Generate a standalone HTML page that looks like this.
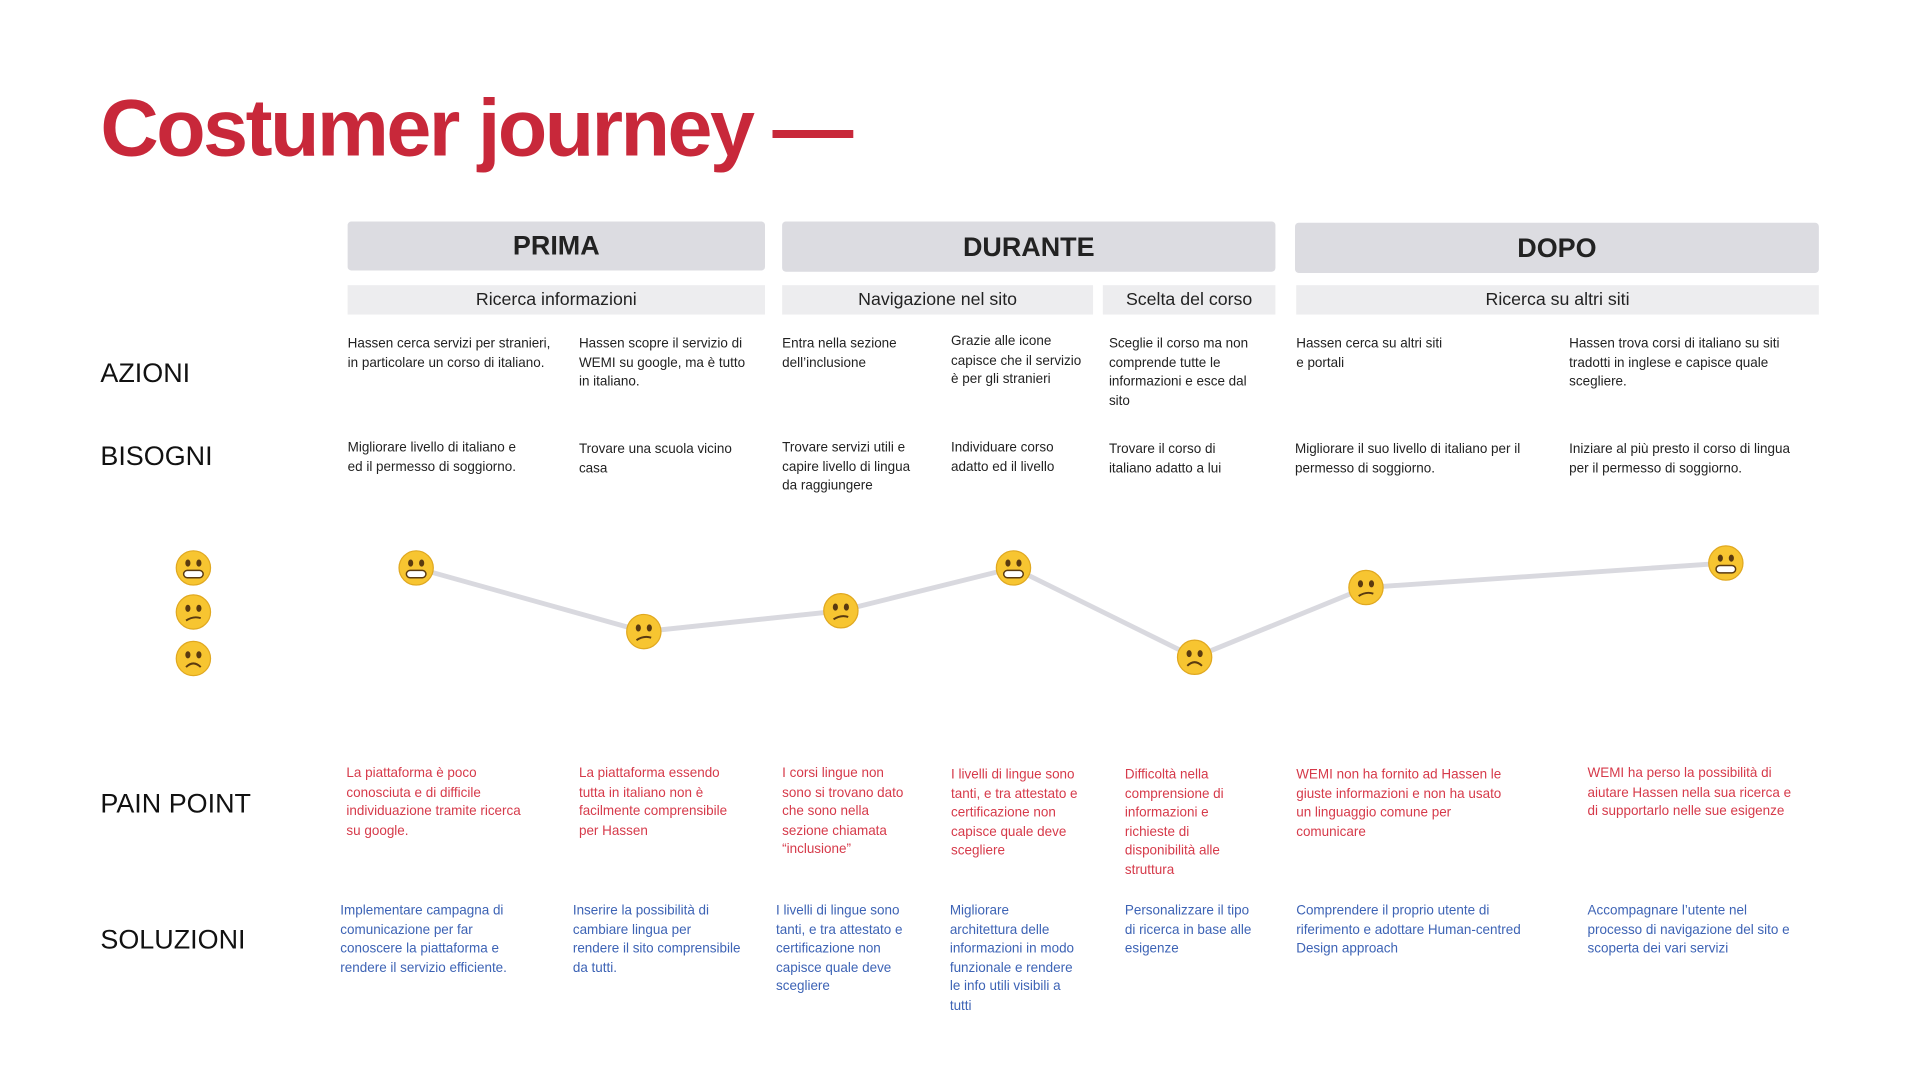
<!DOCTYPE html>
<html><head><meta charset="utf-8"><style>
html,body{margin:0;padding:0;background:#fff;width:1920px;height:1080px;overflow:hidden}
#w{position:absolute;left:0;top:0;width:1560px;height:878px;transform:scale(1.224);transform-origin:0 0;font-family:"Liberation Sans",sans-serif}
.a{position:absolute}
.t{position:absolute;font-size:11px;line-height:15.5px;color:#222;white-space:nowrap}
.r{color:#d63a4a}.b{color:#3d63b5}
.h{position:absolute;background:#dcdce1;border-radius:3px;font-size:22px;font-weight:bold;color:#222;display:flex;align-items:center;justify-content:center}
.s{position:absolute;background:#ededef;font-size:14.5px;color:#222;display:flex;align-items:center;justify-content:center;top:233px;height:24px}
.l{position:absolute;left:82px;font-size:22px;color:#111;transform:translateY(-50%)}
</style></head><body><div id="w">
<div class="a" style="left:82px;top:66px;font-size:66px;font-weight:bold;color:#c8283a;letter-spacing:-2px">Costumer journey —</div>
<div class="h" style="left:284px;top:181px;width:341px;height:40px">PRIMA</div>
<div class="h" style="left:639px;top:181px;width:403px;height:41px">DURANTE</div>
<div class="h" style="left:1058px;top:182px;width:428px;height:41px">DOPO</div>
<div class="s" style="left:284px;width:341px">Ricerca informazioni</div>
<div class="s" style="left:639px;width:254px">Navigazione nel sito</div>
<div class="s" style="left:901px;width:141px">Scelta del corso</div>
<div class="s" style="left:1059px;width:427px">Ricerca su altri siti</div>
<div class="l" style="top:305px">AZIONI</div>
<div class="l" style="top:373px">BISOGNI</div>
<div class="l" style="top:657px">PAIN POINT</div>
<div class="l" style="top:768px">SOLUZIONI</div>

<div class="t" style="left:284px;top:274px">Hassen cerca servizi per stranieri,<br>in particolare un corso di italiano.</div>
<div class="t" style="left:473px;top:274px">Hassen scopre il servizio di<br>WEMI su google, ma è tutto<br>in italiano.</div>
<div class="t" style="left:639px;top:274px">Entra nella sezione<br>dell’inclusione</div>
<div class="t" style="left:777px;top:272px">Grazie alle icone<br>capisce che il servizio<br>è per gli stranieri</div>
<div class="t" style="left:906px;top:274px">Sceglie il corso ma non<br>comprende tutte le<br>informazioni e esce dal<br>sito</div>
<div class="t" style="left:1059px;top:274px">Hassen cerca su altri siti<br>e portali</div>
<div class="t" style="left:1282px;top:274px">Hassen trova corsi di italiano su siti<br>tradotti in inglese e capisce quale<br>scegliere.</div>

<div class="t" style="left:284px;top:359px">Migliorare livello di italiano e<br>ed il permesso di soggiorno.</div>
<div class="t" style="left:473px;top:360px">Trovare una scuola vicino<br>casa</div>
<div class="t" style="left:639px;top:359px">Trovare servizi utili e<br>capire livello di lingua<br>da raggiungere</div>
<div class="t" style="left:777px;top:359px">Individuare corso<br>adatto ed il livello</div>
<div class="t" style="left:906px;top:360px">Trovare il corso di<br>italiano adatto a lui</div>
<div class="t" style="left:1058px;top:360px">Migliorare il suo livello di italiano per il<br>permesso di soggiorno.</div>
<div class="t" style="left:1282px;top:360px">Iniziare al più presto il corso di lingua<br>per il permesso di soggiorno.</div>

<svg class="a" style="left:0;top:0" width="1560" height="878">
<defs><g id="f"><circle r="14" fill="#f7c531"/><circle r="14" fill="none" stroke="#e0a820" stroke-width="1"/></g></defs>
<polyline points="340,464 526,516 687,499 828,464 976,537 1116,480 1410,460" fill="none" stroke="#d9d9df" stroke-width="4"/>
<g>
<use href="#f" x="158" y="464"/><use href="#f" x="340" y="464"/><use href="#f" x="828" y="464"/><use href="#f" x="1410" y="460"/>
<use href="#f" x="158" y="500"/><use href="#f" x="526" y="516"/><use href="#f" x="687" y="499"/><use href="#f" x="1116" y="480"/>
<use href="#f" x="158" y="538"/><use href="#f" x="976" y="537"/>
</g>
<g fill="#5a3a10" stroke="#5a3a10">
<g transform="translate(158,464)"><ellipse cx="-4.5" cy="-4" rx="1.6" ry="2.4"/><ellipse cx="4.5" cy="-4" rx="1.6" ry="2.4"/><rect x="-8" y="2" width="16" height="6" rx="3" fill="#fff" stroke-width="1.2"/></g>
<g transform="translate(340,464)"><ellipse cx="-4.5" cy="-4" rx="1.6" ry="2.4"/><ellipse cx="4.5" cy="-4" rx="1.6" ry="2.4"/><rect x="-8" y="2" width="16" height="6" rx="3" fill="#fff" stroke-width="1.2"/></g>
<g transform="translate(828,464)"><ellipse cx="-4.5" cy="-4" rx="1.6" ry="2.4"/><ellipse cx="4.5" cy="-4" rx="1.6" ry="2.4"/><rect x="-8" y="2" width="16" height="6" rx="3" fill="#fff" stroke-width="1.2"/></g>
<g transform="translate(1410,460)"><ellipse cx="-4.5" cy="-4" rx="1.6" ry="2.4"/><ellipse cx="4.5" cy="-4" rx="1.6" ry="2.4"/><rect x="-8" y="2" width="16" height="6" rx="3" fill="#fff" stroke-width="1.2"/></g>
<g transform="translate(158,500)"><ellipse cx="-4.5" cy="-3" rx="1.6" ry="2.4"/><ellipse cx="4.5" cy="-3" rx="1.6" ry="2.4"/><path d="M-6 7 Q0 3 6 5" fill="none" stroke-width="1.6"/></g>
<g transform="translate(526,516)"><ellipse cx="-4.5" cy="-3" rx="1.6" ry="2.4"/><ellipse cx="4.5" cy="-3" rx="1.6" ry="2.4"/><path d="M-6 7 Q0 3 6 5" fill="none" stroke-width="1.6"/></g>
<g transform="translate(687,499)"><ellipse cx="-4.5" cy="-3" rx="1.6" ry="2.4"/><ellipse cx="4.5" cy="-3" rx="1.6" ry="2.4"/><path d="M-6 7 Q0 3 6 5" fill="none" stroke-width="1.6"/></g>
<g transform="translate(1116,480)"><ellipse cx="-4.5" cy="-3" rx="1.6" ry="2.4"/><ellipse cx="4.5" cy="-3" rx="1.6" ry="2.4"/><path d="M-6 7 Q0 3 6 5" fill="none" stroke-width="1.6"/></g>
<g transform="translate(158,538)"><ellipse cx="-4.5" cy="-3" rx="1.6" ry="2.4"/><ellipse cx="4.5" cy="-3" rx="1.6" ry="2.4"/><path d="M-6 7 Q0 1 6 7" fill="none" stroke-width="1.6"/></g>
<g transform="translate(976,537)"><ellipse cx="-4.5" cy="-3" rx="1.6" ry="2.4"/><ellipse cx="4.5" cy="-3" rx="1.6" ry="2.4"/><path d="M-6 7 Q0 1 6 7" fill="none" stroke-width="1.6"/></g>
</g>
</svg>

<div class="t r" style="left:283px;top:625px">La piattaforma è poco<br>conosciuta e di difficile<br>individuazione tramite ricerca<br>su google.</div>
<div class="t r" style="left:473px;top:625px">La piattaforma essendo<br>tutta in italiano non è<br>facilmente comprensibile<br>per Hassen</div>
<div class="t r" style="left:639px;top:625px">I corsi lingue non<br>sono si trovano dato<br>che sono nella<br>sezione chiamata<br>“inclusione”</div>
<div class="t r" style="left:777px;top:626px">I livelli di lingue sono<br>tanti, e tra attestato e<br>certificazione non<br>capisce quale deve<br>scegliere</div>
<div class="t r" style="left:919px;top:626px">Difficoltà nella<br>comprensione di<br>informazioni e<br>richieste di<br>disponibilità alle<br>struttura</div>
<div class="t r" style="left:1059px;top:626px">WEMI non ha fornito ad Hassen le<br>giuste informazioni e non ha usato<br>un linguaggio comune per<br>comunicare</div>
<div class="t r" style="left:1297px;top:625px">WEMI ha perso la possibilità di<br>aiutare Hassen nella sua ricerca e<br>di supportarlo nelle sue esigenze</div>

<div class="t b" style="left:278px;top:737px">Implementare campagna di<br>comunicazione per far<br>conoscere la piattaforma e<br>rendere il servizio efficiente.</div>
<div class="t b" style="left:468px;top:737px">Inserire la possibilità di<br>cambiare lingua per<br>rendere il sito comprensibile<br>da tutti.</div>
<div class="t b" style="left:634px;top:737px">I livelli di lingue sono<br>tanti, e tra attestato e<br>certificazione non<br>capisce quale deve<br>scegliere</div>
<div class="t b" style="left:776px;top:737px">Migliorare<br>architettura delle<br>informazioni in modo<br>funzionale e rendere<br>le info utili visibili a<br>tutti</div>
<div class="t b" style="left:919px;top:737px">Personalizzare il tipo<br>di ricerca in base alle<br>esigenze</div>
<div class="t b" style="left:1059px;top:737px">Comprendere il proprio utente di<br>riferimento e adottare Human-centred<br>Design approach</div>
<div class="t b" style="left:1297px;top:737px">Accompagnare l’utente nel<br>processo di navigazione del sito e<br>scoperta dei vari servizi</div>
</div></body></html>
